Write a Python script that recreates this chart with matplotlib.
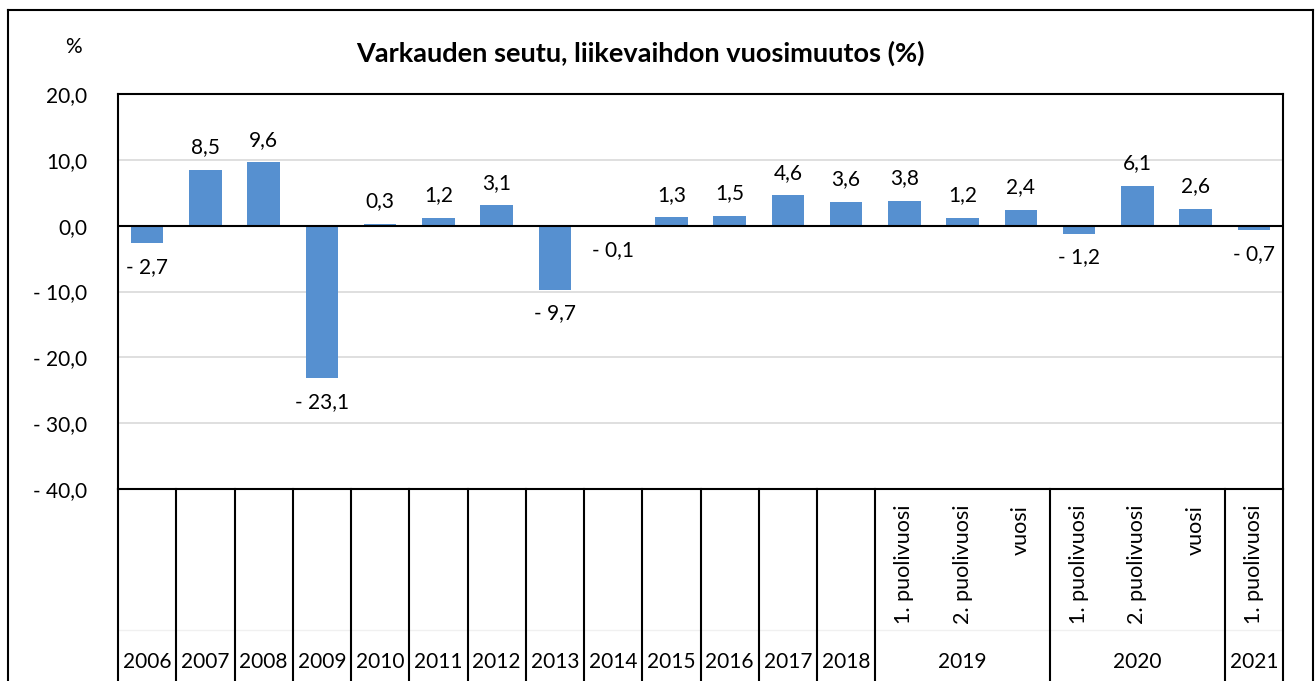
import matplotlib.pyplot as plt
import matplotlib.transforms as mtransforms
from matplotlib.lines import Line2D
import numpy as np

plt.rcParams['font.family'] = ['Lato', 'DejaVu Sans']

years = ['2006', '2007', '2008', '2009', '2010', '2011', '2012', '2013',
         '2014', '2015', '2016', '2017', '2018']
year_vals = [-2.7, 8.5, 9.6, -23.1, 0.3, 1.2, 3.1, -9.7, -0.1, 1.3, 1.5, 4.6, 3.6]

groups = ['2019', '2020', '2021']
group_subs = [['1. puolivuosi', '2. puolivuosi', 'vuosi'],
              ['1. puolivuosi', '2. puolivuosi', 'vuosi'],
              ['1. puolivuosi']]
group_vals = [[3.8, 1.2, 2.4], [-1.2, 6.1, 2.6], [-0.7]]

yticks = [20, 10, 0, -10, -20, -30, -40]


def fmt(v):
    s = f"{abs(v):.1f}".replace('.', ',')
    return ("- " + s) if v < 0 else s


values = year_vals + [v for g in group_vals for v in g]
x = np.arange(len(values))

fig = plt.figure(figsize=(13.16, 6.81), dpi=100)
ax = fig.add_axes([118 / 1316, 1 - 489 / 681, (1283 - 118) / 1316, 395 / 681])

bar_color = '#5690d0'
ax.bar(x, values, width=0.56, color=bar_color, zorder=3)

ax.set_xlim(-0.5, len(values) - 0.5)
ax.set_ylim(-40, 20)
ax.set_yticks(yticks)
ax.set_yticklabels([fmt(t) for t in yticks], fontsize=15)
ax.tick_params(axis='y', length=0, pad=22)
ax.set_xticks([])
ax.grid(axis='y', color='#d9d9d9', linewidth=1.2, zorder=0)
ax.axhline(0, color='black', linewidth=1.5, zorder=4)
for sp in ax.spines.values():
    sp.set_linewidth(1.5)

# value labels
for xi, v in zip(x, values):
    if v >= 0:
        ax.annotate(fmt(v), (xi, v), xytext=(0, 9), textcoords='offset points',
                    ha='center', va='bottom', fontsize=15)
    else:
        ax.annotate(fmt(v), (xi, v), xytext=(0, -10), textcoords='offset points',
                    ha='center', va='top', fontsize=15)

# category table below the axes
trans = mtransforms.blended_transform_factory(ax.transData, ax.transAxes)
y_line_bot = (489 - 690) / 395
y_year = (489 - 662) / 395
y_sub_top = (489 - 505) / 395
y_faint = (489 - 630) / 395

ax.plot([-0.5, len(values) - 0.5], [y_faint, y_faint], transform=trans,
        color='#f0f0f0', linewidth=1, clip_on=False)

edges = list(range(len(years) + 1))
for i, y in enumerate(years):
    ax.text(i, y_year, y, transform=trans, ha='center', va='center', fontsize=15)

pos = len(years)
for g, subs in zip(groups, group_subs):
    n = len(subs)
    for j, s in enumerate(subs):
        ax.text(pos + j, y_sub_top, s, transform=trans, rotation=90,
                ha='center', va='top', fontsize=15.5)
    ax.text(pos + (n - 1) / 2, y_year, g, transform=trans,
            ha='center', va='center', fontsize=15)
    pos += n
    edges.append(pos)

for e in edges:
    ax.plot([e - 0.5, e - 0.5], [0, y_line_bot], transform=trans,
            color='black', linewidth=1.5, clip_on=False)

# title and unit label
fig.text(640 / 1316, 1 - 53 / 681, 'Varkauden seutu, liikevaihdon vuosimuutos (%)',
         ha='center', va='center', fontsize=19.5, fontweight='bold')
fig.text(73 / 1316, 1 - 47 / 681, '%', ha='center', va='center', fontsize=15)

# outer frame
xl, xr, yt = 8 / 1316, 1313 / 1316, 1 - 10 / 681
for xs, ys in [([xl, xl], [0, yt]), ([xl, xr], [yt, yt]), ([xr, xr], [yt, 0])]:
    fig.add_artist(Line2D(xs, ys, color='black', linewidth=1.5,
                          transform=fig.transFigure))

fig.savefig('out.png', dpi=100)
